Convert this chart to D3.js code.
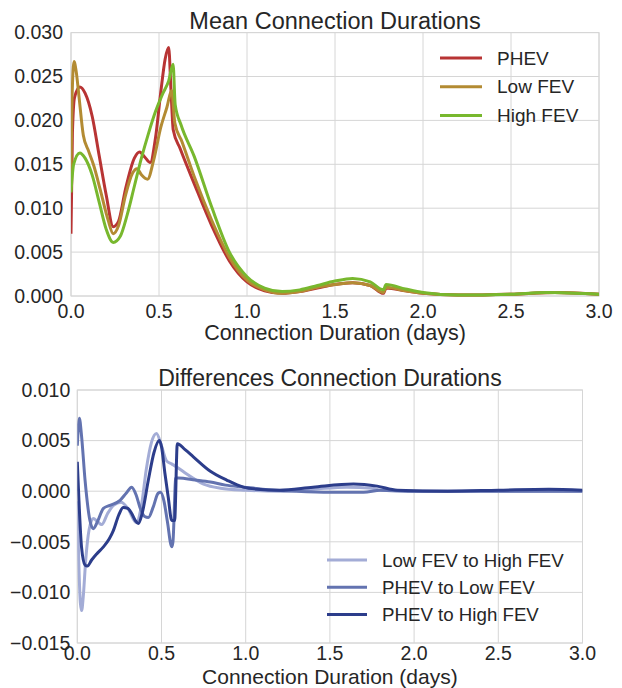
<!DOCTYPE html>
<html>
<head>
<meta charset="utf-8">
<script src="https://cdn.jsdelivr.net/npm/d3@7"></script>
<style>
  body { margin: 0; background: #fff; }
  text { font-family: "Liberation Sans", Arial, sans-serif; fill: #262626; }
</style>
</head>
<body>
<svg id="chart"></svg>
<script>
// mean connection duration densities, [days, density]
const phev = [[0, 0.0071], [0.008, 0.0185], [0.02, 0.0226], [0.05, 0.0238], [0.08, 0.0231], [0.12, 0.0205], [0.16, 0.0160], [0.20, 0.0115], [0.24, 0.0079], [0.27, 0.0085], [0.31, 0.0122], [0.36, 0.0157], [0.39, 0.0164], [0.42, 0.0158], [0.45, 0.0152], [0.48, 0.0180], [0.51, 0.0232], [0.535, 0.0270], [0.555, 0.0283], [0.568, 0.0235], [0.581, 0.0189], [0.62, 0.0168], [0.70, 0.0128], [0.80, 0.0080], [0.90, 0.0040], [1.00, 0.0016], [1.10, 0.0006], [1.20, 0.0003], [1.30, 0.0005], [1.40, 0.0009], [1.50, 0.0013], [1.60, 0.0015], [1.70, 0.0012], [1.775, 0.0003], [1.79, 0.0009], [1.90, 0.0006], [2.00, 0.0003], [2.20, 0.0001], [2.50, 0.0002], [2.75, 0.0004], [3.00, 0.0002]];
const lowFev = [[0, 0.0140], [0.006, 0.0225], [0.017, 0.0267], [0.03, 0.0255], [0.045, 0.0228], [0.07, 0.0183], [0.10, 0.0165], [0.13, 0.0148], [0.165, 0.0122], [0.21, 0.0087], [0.24, 0.0071], [0.27, 0.0080], [0.31, 0.0115], [0.35, 0.0140], [0.375, 0.0145], [0.40, 0.0138], [0.435, 0.0133], [0.47, 0.0155], [0.51, 0.0192], [0.545, 0.0215], [0.572, 0.0234], [0.59, 0.0197], [0.63, 0.0176], [0.70, 0.0136], [0.80, 0.0086], [0.90, 0.0044], [1.00, 0.0018], [1.10, 0.0007], [1.20, 0.0003], [1.30, 0.0005], [1.40, 0.0010], [1.50, 0.0013], [1.60, 0.0015], [1.70, 0.0012], [1.775, 0.0004], [1.79, 0.0010], [1.90, 0.0006], [2.00, 0.0003], [2.20, 0.0001], [2.50, 0.0002], [2.75, 0.0004], [3.00, 0.0002]];
const highFev = [[0, 0.0118], [0.015, 0.0150], [0.05, 0.0163], [0.08, 0.0157], [0.12, 0.0138], [0.16, 0.0107], [0.20, 0.0076], [0.24, 0.0061], [0.28, 0.0068], [0.32, 0.0093], [0.36, 0.0125], [0.40, 0.0157], [0.44, 0.0185], [0.48, 0.0210], [0.52, 0.0230], [0.555, 0.0245], [0.58, 0.0264], [0.592, 0.0218], [0.625, 0.0195], [0.70, 0.0159], [0.80, 0.0101], [0.90, 0.0050], [1.00, 0.0022], [1.10, 0.0009], [1.20, 0.0005], [1.30, 0.0007], [1.40, 0.0012], [1.50, 0.0017], [1.60, 0.0020], [1.70, 0.0016], [1.775, 0.0007], [1.79, 0.0013], [1.90, 0.0008], [2.00, 0.0004], [2.20, 0.0001], [2.50, 0.0002], [2.70, 0.0004], [3.00, 0.0002]];

// pairwise differences
const lowToHigh = [[0, -0.0010], [0.008, -0.0065], [0.018, -0.0110], [0.026, -0.0118], [0.035, -0.0105], [0.05, -0.0068], [0.07, -0.0038], [0.095, -0.0027], [0.12, -0.0030], [0.145, -0.0033], [0.18, -0.0022], [0.215, -0.0014], [0.26, -0.0011], [0.30, -0.0017], [0.35, -0.0031], [0.38, -0.0015], [0.41, 0.0022], [0.44, 0.0048], [0.47, 0.0057], [0.50, 0.0045], [0.53, 0.0030], [0.56, 0.0027], [0.59, 0.0024], [0.65, 0.0017], [0.75, 0.0007], [0.85, 0.0003], [1.00, 0.0001], [1.20, 0.0000], [1.40, 0.0002], [1.60, 0.0004], [1.75, 0.0003], [1.80, 0.0001], [2.00, 0.0000], [2.50, 0.0000], [3.00, 0.0000]];
const phevToLow = [[0, 0.0045], [0.012, 0.0072], [0.025, 0.0055], [0.046, 0.0011], [0.075, -0.0029], [0.095, -0.0037], [0.12, -0.0030], [0.155, -0.0017], [0.194, -0.0014], [0.254, -0.0009], [0.29, -0.0002], [0.323, 0.0004], [0.35, -0.0004], [0.372, -0.0016], [0.40, -0.0025], [0.422, -0.0026], [0.45, -0.0016], [0.48, -0.0002], [0.495, -0.0001], [0.515, -0.0010], [0.535, -0.0030], [0.561, -0.0055], [0.568, -0.0050], [0.585, 0.0013], [0.60, 0.0013], [0.70, 0.0011], [0.79, 0.0009], [0.88, 0.0006], [0.99, 0.0004], [1.10, 0.0002], [1.30, 0.0000], [1.50, -0.0001], [1.70, -0.0001], [1.80, 0.0001], [2.00, 0.0000], [3.00, 0.0000]];
const phevToHigh = [[0, 0.0029], [0.01, -0.0010], [0.025, -0.0055], [0.046, -0.0073], [0.06, -0.0074], [0.085, -0.0068], [0.115, -0.0062], [0.155, -0.0055], [0.19, -0.0047], [0.214, -0.0039], [0.245, -0.0024], [0.273, -0.0016], [0.30, -0.0017], [0.323, -0.0022], [0.345, -0.0029], [0.362, -0.0032], [0.385, -0.0022], [0.422, 0.0011], [0.455, 0.0038], [0.487, 0.0050], [0.50, 0.0044], [0.52, 0.0018], [0.54, -0.0006], [0.561, -0.0029], [0.578, -0.0029], [0.594, 0.0047], [0.64, 0.0041], [0.689, 0.0034], [0.788, 0.0020], [0.887, 0.0011], [0.986, 0.0004], [1.065, 0.0002], [1.20, 0.0001], [1.40, 0.0004], [1.64, 0.0007], [1.78, 0.0005], [1.90, 0.0001], [2.20, 0.0000], [2.50, 0.0001], [2.80, 0.0002], [3.00, 0.0001]];

const xTicks = [0, 0.5, 1, 1.5, 2, 2.5, 3];
const meanYTicks = [0, 0.005, 0.01, 0.015, 0.02, 0.025, 0.03];
const diffYTicks = [-0.015, -0.01, -0.005, 0, 0.005, 0.01];

const meanSeries = [
  { name: "PHEV", values: phev, color: "#b83434" },
  { name: "Low FEV", values: lowFev, color: "#b38b33" },
  { name: "High FEV", values: highFev, color: "#78b82e" }
];
const diffSeries = [
  { name: "Low FEV to High FEV", values: lowToHigh, color: "#a3acd6" },
  { name: "PHEV to Low FEV", values: phevToLow, color: "#6373b0" },
  { name: "PHEV to High FEV", values: phevToHigh, color: "#2c3d8b" }
];

const svg = d3.select("#chart").attr("width", 622).attr("height", 688);

function drawPanel(cfg) {
  const { box, yDomain, yTicks, series, title, legend } = cfg;
  const g = svg.append("g");

  const xScale = d3.scaleLinear().domain([0, 3]).range([box.left, box.right]);
  const yScale = d3.scaleLinear().domain(yDomain).range([box.bottom, box.top]);

  // grid
  g.append("g")
    .selectAll("line")
    .data(xTicks)
    .join("line")
    .attr("x1", d => xScale(d))
    .attr("x2", d => xScale(d))
    .attr("y1", box.top)
    .attr("y2", box.bottom)
    .attr("stroke", "#d6d6d6")
    .attr("stroke-width", 1);
  g.append("g")
    .selectAll("line")
    .data(yTicks)
    .join("line")
    .attr("x1", box.left)
    .attr("x2", box.right)
    .attr("y1", d => yScale(d))
    .attr("y2", d => yScale(d))
    .attr("stroke", "#d6d6d6")
    .attr("stroke-width", 1);

  g.append("rect")
    .attr("x", box.left)
    .attr("y", box.top)
    .attr("width", box.right - box.left)
    .attr("height", box.bottom - box.top)
    .attr("fill", "none")
    .attr("stroke", "#d6d6d6");

  // tick labels
  g.append("g")
    .selectAll("text")
    .data(xTicks)
    .join("text")
    .attr("x", d => xScale(d))
    .attr("y", box.bottom + cfg.xTickGap)
    .attr("text-anchor", "middle")
    .style("font-size", "19.5px")
    .text(d3.format(".1f"));
  g.append("g")
    .selectAll("text")
    .data(yTicks)
    .join("text")
    .attr("x", box.left - cfg.yTickGap)
    .attr("y", d => yScale(d))
    .attr("dy", "0.35em")
    .attr("text-anchor", "end")
    .style("font-size", "19.5px")
    .text(d3.format(".3f"));

  g.append("text")
    .attr("x", (box.left + box.right) / 2)
    .attr("y", box.top - 4)
    .attr("text-anchor", "middle")
    .style("font-size", cfg.titleSize)
    .text(title);
  g.append("text")
    .attr("x", (box.left + box.right) / 2)
    .attr("y", box.bottom + cfg.xLabelGap)
    .attr("text-anchor", "middle")
    .style("font-size", cfg.labelSize)
    .text("Connection Duration (days)");

  // lines
  const clipId = "clip" + cfg.id;
  svg.append("clipPath")
    .attr("id", clipId)
    .append("rect")
    .attr("x", box.left)
    .attr("y", box.top - 2)
    .attr("width", box.right - box.left)
    .attr("height", box.bottom - box.top + 3);

  const line = d3.line()
    .x(d => xScale(d[0]))
    .y(d => yScale(d[1]))
    .curve(d3.curveMonotoneX);

  g.append("g")
    .attr("clip-path", `url(#${clipId})`)
    .selectAll("path")
    .data(series)
    .join("path")
    .attr("d", d => line(d.values))
    .attr("fill", "none")
    .attr("stroke", d => d.color)
    .attr("stroke-width", 3)
    .attr("stroke-linejoin", "round");

  // legend
  const lg = g.append("g");
  series.forEach((s, i) => {
    const y = legend.y + i * legend.step;
    lg.append("line")
      .attr("x1", legend.x)
      .attr("x2", legend.x + legend.len)
      .attr("y1", y)
      .attr("y2", y)
      .attr("stroke", s.color)
      .attr("stroke-width", 3);
    lg.append("text")
      .attr("x", legend.x + legend.len + legend.pad)
      .attr("y", y)
      .attr("dy", "0.35em")
      .style("font-size", legend.size)
      .text(s.name);
  });
}

drawPanel({
  id: "mean",
  box: { left: 71, right: 599, top: 32.6, bottom: 296 },
  yDomain: [0, 0.03],
  yTicks: meanYTicks,
  series: meanSeries,
  title: "Mean Connection Durations",
  titleSize: "23.5px",
  labelSize: "21.5px",
  xTickGap: 22,
  xLabelGap: 44,
  yTickGap: 8,
  legend: { x: 440, y: 58, step: 28.7, len: 42, pad: 15, size: "19px" }
});

drawPanel({
  id: "diff",
  box: { left: 77.3, right: 582.5, top: 390, bottom: 643 },
  yDomain: [-0.015, 0.01],
  yTicks: diffYTicks,
  series: diffSeries,
  title: "Differences Connection Durations",
  titleSize: "23px",
  labelSize: "21px",
  xTickGap: 17.3,
  xLabelGap: 40.5,
  yTickGap: 7,
  legend: { x: 327, y: 560, step: 27.2, len: 40, pad: 15, size: "18.7px" }
});
</script>
</body>
</html>
